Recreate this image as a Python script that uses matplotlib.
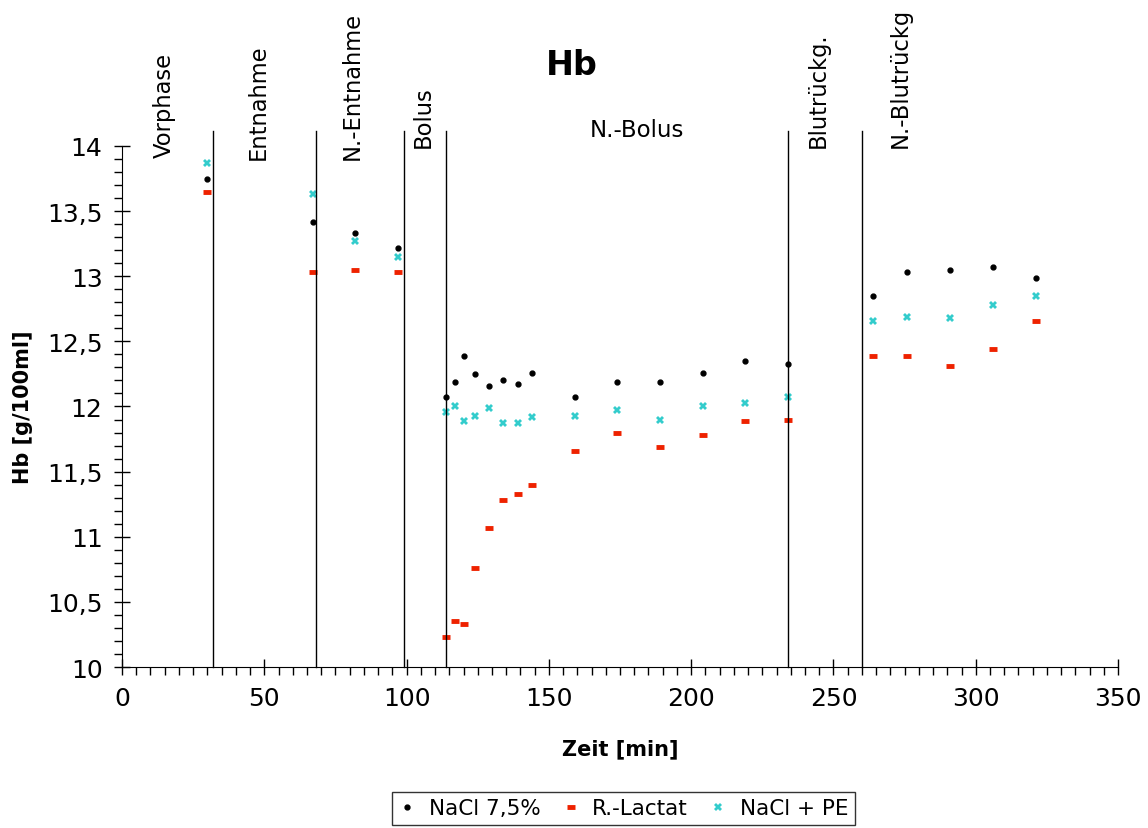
import numpy as np
import matplotlib
matplotlib.use('Agg')
import matplotlib.pyplot as plt
from matplotlib.ticker import MultipleLocator, FuncFormatter

# Zeitpunkte [min]
zeit = [30, 67, 82, 97, 114, 117, 120, 124, 129, 134, 139, 144, 159,
        174, 189, 204, 219, 234, 264, 276, 291, 306, 321]

nacl = [13.75, 13.42, 13.33, 13.22, 12.07, 12.19, 12.39, 12.25, 12.16, 12.20,
        12.17, 12.26, 12.07, 12.19, 12.19, 12.26, 12.35, 12.33, 12.85, 13.03,
        13.05, 13.07, 12.99]
lactat = [13.65, 13.03, 13.05, 13.03, 10.23, 10.35, 10.33, 10.76, 11.07, 11.28,
          11.33, 11.40, 11.66, 11.80, 11.69, 11.78, 11.89, 11.90, 12.39, 12.39,
          12.31, 12.44, 12.66]
nacl_pe = [13.87, 13.63, 13.27, 13.15, 11.96, 12.00, 11.89, 11.93, 11.99, 11.87,
           11.87, 11.92, 11.93, 11.97, 11.90, 12.00, 12.03, 12.07, 12.66, 12.69,
           12.68, 12.78, 12.85]

# Phasengrenzen und Beschriftungen
grenzen = [32, 68, 99, 114, 234, 260]
phasen = ['Vorphase', 'Entnahme', 'N.-Entnahme', 'Bolus', 'Blutrückg.', 'N.-Blutrückg']
phasen_x = [15, 48, 81, 106, 244.5, 273.5]
phasen_y = [13.915, 13.90, 13.90, 13.99, 13.99, 13.99]

plt.rcParams['font.family'] = ['DejaVu Sans']

fig = plt.figure(figsize=(11.48, 8.29), dpi=100)
ax = fig.add_axes([0.1063, 0.1942, 0.8676, 0.6285])

ax.plot(zeit, nacl, linestyle='none', marker='o', ms=3.5, color='black', label='NaCl 7,5%')
ax.plot(zeit, lactat, linestyle='none', marker='_', ms=6, mew=3.5, color='#ee2200', label='R.-Lactat')
ax.plot(zeit, nacl_pe, linestyle='none', marker='X', ms=6, mew=0, color='#33cccc', label='NaCl + PE')

for g in grenzen:
    ax.plot([g, g], [10, 14.115], color='black', lw=1, clip_on=False)

for name, px, py in zip(phasen, phasen_x, phasen_y):
    ax.text(px, py, name, rotation=90, ha='center', va='bottom', fontsize=16.3, clip_on=False)
ax.text(181, 14.13, 'N.-Bolus', ha='center', va='center', fontsize=16.5)

ax.set_xlim(0, 350)
ax.set_ylim(10, 14)
ax.xaxis.set_major_locator(MultipleLocator(50))
ax.xaxis.set_minor_locator(MultipleLocator(5))
ax.yaxis.set_major_locator(MultipleLocator(0.5))
ax.yaxis.set_minor_locator(MultipleLocator(0.1))
ax.yaxis.set_major_formatter(FuncFormatter(lambda v, p: ('%g' % v).replace('.', ',')))

ax.tick_params(which='major', direction='inout', length=12, width=1, labelsize=18, pad=8)
ax.tick_params(which='minor', direction='out', length=6, width=1)
ax.spines['top'].set_visible(False)
ax.spines['right'].set_visible(False)

ax.set_xlabel('Zeit [min]', fontsize=15, fontweight='bold', labelpad=20)
ax.set_ylabel('Hb [g/100ml]', fontsize=15, fontweight='bold', labelpad=10)

fig.text(0.498, 0.921, 'Hb', ha='center', va='center', fontsize=24, fontweight='bold')

leg = fig.legend(loc='center', bbox_to_anchor=(0.543, 0.024), ncol=3, fontsize=15.5,
                 frameon=True, fancybox=False, edgecolor='black', handlelength=0.8,
                 handletextpad=0.6, columnspacing=1.0, borderpad=0.3)
leg.get_frame().set_linewidth(1)

fig.savefig('out.png', dpi=100)
